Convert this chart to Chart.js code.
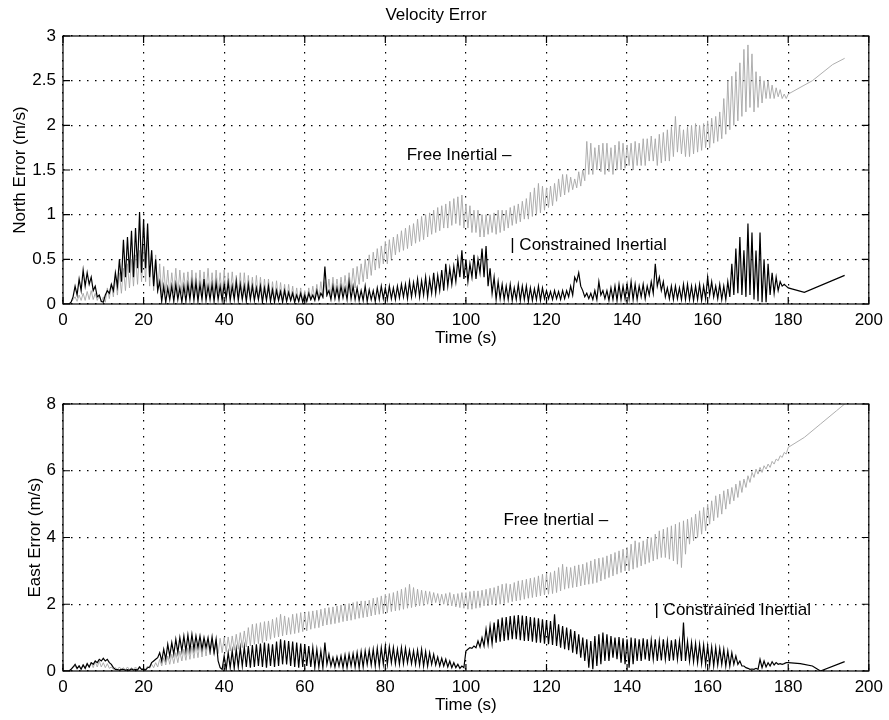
<!DOCTYPE html>
<html>
<head>
<meta charset="utf-8">
<title>Velocity Error</title>
<script src="https://cdn.jsdelivr.net/npm/chart.js@4.4.0/dist/chart.umd.min.js"></script>
<style>
  body { margin: 0; background: #fff; }
  #wrap { position: relative; width: 889px; height: 720px; }
  canvas { position: absolute; left: 0; }
  #north { top: 0; }
  #east { top: 360px; }
</style>
</head>
<body>
<div id="wrap">
  <canvas id="north" width="889" height="353"></canvas>
  <canvas id="east" width="889" height="360"></canvas>
</div>
<script>
// samples are 0.5 s apart, starting at t = 0 (one row = 5 s); null = no sample, the line spans it
const T_STEP = 0.5;

const timeTicks = [0, 20, 40, 60, 80, 100, 120, 140, 160, 180, 200];
const northTicks = [0, 0.5, 1, 1.5, 2, 2.5, 3];
const eastTicks = [0, 2, 4, 6, 8];

// North velocity error (m/s)
const northConstrained = [
  0, 0, 0, 0, 0.02, 0.08, 0.2, 0.1, 0.28, 0.15,
  0.38, 0.2, 0.35, 0.22, 0.3, 0.15, 0.2, 0.08, 0.1, 0.03,
  0.02, 0.1, 0.15, 0.12, 0.22, 0.15, 0.35, 0.2, 0.5, 0.25,
  0.72, 0.3, 0.75, 0.35, 0.82, 0.3, 0.85, 0.4, 1.03, 0.35,
  0.95, 0.4, 0.9, 0.3, 0.6, 0.2, 0.5, 0.15, 0.25, 0.03,
  0.2, 0.02, 0.18, 0.05, 0.2, 0.03, 0.22, 0.05, 0.18, 0.02,
  0.2, 0.03, 0.22, 0.05, 0.25, 0.04, 0.24, 0.03, 0.22, 0.05,
  0.28, 0.04, 0.2, 0.05, 0.22, 0.03, 0.24, 0.05, 0.2, 0.04,
  0.22, 0.06, 0.24, 0.04, 0.2, 0.05, 0.25, 0.04, 0.22, 0.05,
  0.2, 0.03, 0.22, 0.05, 0.2, 0.04, 0.18, 0.05, 0.2, 0.02,
  0.18, 0.04, 0.2, 0.03, 0.16, 0.02, 0.15, 0.04, 0.14, 0.02,
  0.15, 0.03, 0.13, 0.04, 0.12, 0.02, 0.1, 0.03, 0.12, 0.02,
  0.1, 0.03, 0.12, 0.05, 0.1, 0.04, 0.15, 0.05, 0.12, 0.08,
  0.42, 0.1, 0.15, 0.05, 0.2, 0.06, 0.18, 0.05, 0.2, 0.07,
  0.18, 0.05, 0.25, 0.06, 0.2, 0.05, 0.18, 0.04, 0.15, 0.04,
  0.2, 0.03, 0.16, 0.05, 0.15, 0.03, 0.18, 0.05, 0.2, 0.06,
  0.18, 0.05, 0.2, 0.06, 0.18, 0.05, 0.2, 0.07, 0.22, 0.08,
  0.22, 0.06, 0.25, 0.08, 0.24, 0.1, 0.28, 0.08, 0.26, 0.1,
  0.3, 0.08, 0.28, 0.12, 0.35, 0.12, 0.32, 0.15, 0.38, 0.15,
  0.45, 0.2, 0.4, 0.22, 0.42, 0.25, 0.5, 0.3, 0.6, 0.28,
  0.5, 0.25, 0.45, 0.3, 0.55, 0.28, 0.5, 0.35, 0.62, 0.3,
  0.65, 0.2, 0.4, 0.12, 0.3, 0.05, 0.25, 0.06, 0.22, 0.05,
  0.2, 0.05, 0.22, 0.04, 0.18, 0.05, 0.22, 0.04, 0.2, 0.05,
  0.2, 0.03, 0.18, 0.04, 0.17, 0.05, 0.2, 0.04, 0.18, 0.06,
  0.15, 0.06, 0.14, 0.05, 0.15, 0.06, 0.14, 0.05, 0.15, 0.06,
  0.15, 0.08, 0.2, 0.1, 0.3, 0.25, 0.35, 0.2, 0.15, 0.08,
  0.12, 0.06, 0.12, 0.05, 0.15, 0.05, 0.25, 0.1, 0.15, 0.06,
  0.15, 0.04, 0.18, 0.05, 0.2, 0.04, 0.22, 0.05, 0.2, 0.06,
  0.22, 0.06, 0.25, 0.05, 0.22, 0.05, 0.2, 0.08, 0.22, 0.06,
  0.2, 0.1, 0.25, 0.12, 0.45, 0.2, 0.3, 0.15, 0.25, 0.08,
  0.18, 0.06, 0.2, 0.05, 0.2, 0.06, 0.18, 0.05, 0.22, 0.05,
  0.22, 0.05, 0.2, 0.04, 0.2, 0.05, 0.22, 0.04, 0.2, 0.06,
  0.3, 0.1, 0.25, 0.08, 0.2, 0.06, 0.22, 0.05, 0.2, 0.05,
  0.25, 0.08, 0.45, 0.1, 0.62, 0.12, 0.75, 0.1, 0.6, 0.08,
  0.9, 0.1, 0.8, 0.05, 0.6, 0.03, 0.8, 0.02, 0.5, 0.02,
  0.45, 0.1, 0.35, 0.12, 0.3, 0.15, 0.25, 0.2, 0.22, 0.2,
  0.18, null, null, null, null, null, null, null, 0.13, null,
  null, null, null, null, null, null, null, null, null, null,
  null, null, null, null, null, null, null, null, 0.32
];
const northFree = [
  0, 0, 0, 0, 0.02, 0.05, 0.08, 0.03, 0.1, 0.04,
  0.12, 0.04, 0.14, 0.05, 0.15, 0.05, 0.12, 0.04, 0.1, 0.02,
  0.08, 0.02, 0.18, 0.06, 0.22, 0.08, 0.3, 0.1, 0.35, 0.12,
  0.4, 0.15, 0.45, 0.18, 0.5, 0.2, 0.55, 0.22, 0.6, 0.25,
  0.65, 0.25, 0.72, 0.2, 0.6, 0.15, 0.55, 0.12, 0.45, 0.1,
  0.42, 0.12, 0.38, 0.1, 0.35, 0.12, 0.4, 0.1, 0.38, 0.12,
  0.35, 0.12, 0.36, 0.1, 0.38, 0.12, 0.35, 0.08, 0.38, 0.1,
  0.36, 0.12, 0.4, 0.1, 0.35, 0.1, 0.38, 0.12, 0.35, 0.08,
  0.38, 0.08, 0.35, 0.1, 0.36, 0.1, 0.32, 0.08, 0.35, 0.06,
  0.35, 0.08, 0.32, 0.08, 0.3, 0.06, 0.32, 0.05, 0.3, 0.06,
  0.28, 0.06, 0.28, 0.05, 0.25, 0.05, 0.26, 0.04, 0.24, 0.04,
  0.22, 0.03, 0.22, 0.03, 0.2, 0.02, 0.18, 0.02, 0.18, 0.03,
  0.15, 0.03, 0.18, 0.04, 0.2, 0.05, 0.22, 0.05, 0.25, 0.06,
  0.25, 0.08, 0.28, 0.08, 0.3, 0.1, 0.28, 0.1, 0.3, 0.12,
  0.32, 0.12, 0.35, 0.15, 0.4, 0.18, 0.42, 0.22, 0.45, 0.25,
  0.5, 0.28, 0.55, 0.32, 0.58, 0.38, 0.62, 0.4, 0.65, 0.45,
  0.7, 0.45, 0.72, 0.5, 0.75, 0.55, 0.78, 0.58, 0.82, 0.6,
  0.85, 0.62, 0.88, 0.65, 0.9, 0.68, 0.95, 0.7, 0.98, 0.72,
  1.0, 0.75, 1.02, 0.78, 1.05, 0.8, 1.08, 0.82, 1.1, 0.85,
  1.12, 0.85, 1.15, 0.88, 1.18, 0.9, 1.2, 0.88, 1.22, 0.85,
  1.12, 0.85, 1.1, 0.8, 1.05, 0.8, 1.05, 0.75, 1.0, 0.75,
  1.0, 0.78, 1.0, 0.8, 1.02, 0.78, 1.05, 0.8, 1.05, 0.82,
  1.05, 0.85, 1.08, 0.88, 1.1, 0.9, 1.12, 0.92, 1.15, 0.95,
  1.18, 0.95, 1.25, 0.98, 1.3, 1.0, 1.35, 1.02, 1.32, 1.05,
  1.3, 1.08, 1.32, 1.1, 1.35, 1.15, 1.4, 1.2, 1.45, 1.22,
  1.45, 1.25, 1.42, 1.28, 1.4, 1.3, 1.48, 1.32, 1.5, 1.38,
  1.82, 1.45, 1.8, 1.45, 1.75, 1.5, 1.78, 1.48, 1.8, 1.45,
  1.8, 1.48, 1.75, 1.45, 1.78, 1.5, 1.82, 1.5, 1.8, 1.52,
  1.78, 1.55, 1.8, 1.5, 1.82, 1.55, 1.8, 1.55, 1.85, 1.55,
  1.85, 1.6, 1.88, 1.6, 1.85, 1.55, 1.9, 1.58, 1.92, 1.6,
  1.95, 1.6, 1.98, 1.65, 2.1, 1.7, 2.0, 1.68, 1.95, 1.65,
  1.98, 1.65, 2.0, 1.68, 2.02, 1.7, 2.0, 1.72, 2.02, 1.75,
  2.05, 1.75, 2.08, 1.8, 2.1, 1.82, 2.15, 1.85, 2.3, 1.9,
  2.5, 1.95, 2.55, 2.0, 2.6, 2.05, 2.7, 2.1, 2.85, 2.15,
  2.9, 2.2, 2.8, 2.15, 2.6, 2.2, 2.55, 2.25, 2.5, 2.3,
  2.5, 2.3, 2.45, 2.3, 2.42, 2.32, 2.4, 2.3, 2.35, 2.3,
  2.35, null, null, null, null, null, null, null, null, null,
  null, null, 2.5, null, null, null, null, null, null, null,
  null, null, 2.68, null, null, null, null, null, 2.75
];

// East velocity error (m/s)
const eastConstrained = [
  0, 0, 0, 0, 0.05, 0.12, 0.2, 0.08, 0.15, 0.05,
  0.18, 0.08, 0.22, 0.12, 0.25, 0.2, 0.3, 0.25, 0.35, 0.3,
  0.38, 0.3, 0.35, 0.25, 0.2, 0.1, 0.05, 0.04, 0.03, 0.05,
  0.05, 0.02, 0.04, 0.02, 0.06, 0.03, 0.05, 0.03, 0.12, 0.05,
  0.05, 0.03, 0.1, 0.12, 0.25, 0.3, 0.35, 0.4, 0.55, 0.3,
  0.65, 0.35, 0.8, 0.45, 0.85, 0.5, 0.95, 0.55, 1.0, 0.6,
  1.05, 0.6, 1.08, 0.62, 1.1, 0.65, 1.05, 0.7, 1.05, 0.65,
  1.0, 0.7, 1.0, 0.6, 1.02, 0.55, 0.95, 0.3, 0.1, 0.05,
  0.45, 0.05, 0.55, 0.1, 0.6, 0.08, 0.65, 0.12, 0.7, 0.15,
  0.72, 0.12, 0.75, 0.1, 0.78, 0.12, 0.8, 0.15, 0.82, 0.12,
  0.85, 0.1, 0.82, 0.15, 0.8, 0.12, 0.88, 0.15, 0.95, 0.2,
  0.92, 0.2, 0.9, 0.15, 0.88, 0.12, 0.85, 0.1, 0.82, 0.12,
  0.8, 0.15, 0.75, 0.12, 0.7, 0.1, 0.65, 0.12, 0.6, 0.1,
  0.85, 0.2, 0.5, 0.15, 0.4, 0.12, 0.42, 0.15, 0.45, 0.1,
  0.48, 0.1, 0.5, 0.15, 0.52, 0.12, 0.55, 0.1, 0.58, 0.12,
  0.6, 0.2, 0.62, 0.18, 0.65, 0.15, 0.68, 0.15, 0.7, 0.2,
  0.75, 0.2, 0.72, 0.25, 0.7, 0.22, 0.65, 0.2, 0.7, 0.22,
  0.68, 0.25, 0.62, 0.22, 0.6, 0.2, 0.62, 0.18, 0.65, 0.15,
  0.58, 0.15, 0.55, 0.2, 0.5, 0.18, 0.42, 0.15, 0.38, 0.15,
  0.35, 0.12, 0.3, 0.1, 0.25, 0.1, 0.2, 0.08, 0.15, 0.1,
  0.6, 0.65, 0.7, 0.68, 0.75, 0.7, 0.9, 0.72, 1.0, 0.75,
  1.25, 0.8, 1.35, 0.82, 1.45, 0.85, 1.55, 0.88, 1.6, 0.9,
  1.62, 0.92, 1.65, 0.95, 1.66, 0.95, 1.68, 0.92, 1.66, 0.9,
  1.65, 0.9, 1.62, 0.88, 1.6, 0.85, 1.58, 0.85, 1.55, 0.82,
  1.52, 0.8, 1.5, 0.78, 1.7, 0.75, 1.4, 0.7, 1.35, 0.65,
  1.3, 0.62, 1.25, 0.55, 1.2, 0.5, 1.1, 0.4, 1.0, 0.3,
  0.95, 0.1, 0.9, 0.05, 1.05, 0.15, 1.1, 0.2, 1.15, 0.3,
  1.1, 0.3, 1.05, 0.4, 1.0, 0.35, 1.02, 0.25, 0.98, 0.2,
  0.95, 0.1, 1.0, 0.2, 0.98, 0.3, 0.95, 0.3, 0.98, 0.35,
  0.95, 0.3, 0.92, 0.35, 0.95, 0.3, 0.9, 0.32, 0.95, 0.35,
  0.9, 0.3, 0.92, 0.32, 0.95, 0.35, 0.9, 0.3, 1.45, 0.3,
  0.88, 0.3, 0.85, 0.28, 0.82, 0.25, 0.8, 0.22, 0.78, 0.2,
  0.75, 0.18, 0.72, 0.15, 0.7, 0.18, 0.68, 0.2, 0.65, 0.15,
  0.6, 0.15, 0.55, 0.2, 0.45, 0.2, 0.3, 0.15, 0.15, 0.1,
  0.08, 0.05, 0.06, 0.05, 0.08, 0.05, 0.35, 0.1, 0.3, 0.12,
  0.25, 0.15, 0.28, 0.18, 0.25, 0.2, 0.22, 0.2, 0.22, 0.25,
  0.25, null, null, null, null, null, 0.22, null, null, null,
  null, null, 0.15, null, null, null, 0, null, null, null,
  null, null, null, null, null, null, null, null, 0.28
];
const eastFree = [
  0, 0, 0, 0, 0.05, 0.1, 0.15, 0.05, 0.18, 0.06,
  0.2, 0.08, 0.22, 0.1, 0.25, 0.1, 0.28, 0.12, 0.3, 0.12,
  0.25, 0.1, 0.22, 0.08, 0.12, 0.05, 0.1, 0.04, 0.12, 0.04,
  0.1, 0.03, 0.12, 0.04, 0.1, 0.05, 0.12, 0.05, 0.15, 0.05,
  0.1, 0.05, 0.15, 0.08, 0.2, 0.1, 0.25, 0.12, 0.35, 0.15,
  0.4, 0.18, 0.45, 0.2, 0.5, 0.22, 0.55, 0.25, 0.6, 0.3,
  0.65, 0.32, 0.7, 0.35, 0.75, 0.38, 0.8, 0.4, 0.85, 0.42,
  0.88, 0.45, 0.9, 0.48, 0.92, 0.5, 0.95, 0.52, 0.98, 0.55,
  1.0, 0.58, 1.02, 0.6, 1.05, 0.62, 1.1, 0.65, 1.15, 0.7,
  1.2, 0.72, 1.3, 0.75, 1.4, 0.8, 1.42, 0.82, 1.45, 0.85,
  1.48, 0.9, 1.5, 0.95, 1.55, 1.0, 1.6, 1.02, 1.7, 1.05,
  1.65, 1.08, 1.6, 1.1, 1.7, 1.12, 1.72, 1.15, 1.75, 1.18,
  1.75, 1.2, 1.78, 1.25, 1.8, 1.28, 1.82, 1.3, 1.85, 1.35,
  1.88, 1.38, 1.9, 1.4, 1.92, 1.42, 1.95, 1.45, 1.98, 1.48,
  2.0, 1.5, 2.02, 1.52, 2.05, 1.55, 2.08, 1.58, 2.1, 1.6,
  2.1, 1.62, 2.12, 1.65, 2.18, 1.68, 2.2, 1.7, 2.25, 1.72,
  2.3, 1.75, 2.32, 1.78, 2.35, 1.8, 2.4, 1.82, 2.45, 1.85,
  2.5, 1.88, 2.6, 1.9, 2.5, 1.92, 2.45, 1.95, 2.42, 1.98,
  2.4, 2.0, 2.38, 2.02, 2.35, 2.05, 2.32, 2.02, 2.3, 2.0,
  2.32, 1.98, 2.35, 1.95, 2.3, 1.92, 2.32, 1.9, 2.35, 1.88,
  2.35, 1.85, 2.38, 1.85, 2.4, 1.88, 2.4, 1.9, 2.42, 1.95,
  2.45, 1.95, 2.48, 1.98, 2.5, 2.0, 2.55, 2.0, 2.6, 2.02,
  2.62, 2.05, 2.6, 2.08, 2.65, 2.1, 2.7, 2.12, 2.72, 2.15,
  2.75, 2.18, 2.78, 2.2, 2.8, 2.22, 2.85, 2.25, 2.9, 2.28,
  2.92, 2.3, 2.95, 2.32, 3.0, 2.35, 3.1, 2.4, 3.2, 2.45,
  3.12, 2.48, 3.1, 2.5, 3.15, 2.52, 3.18, 2.55, 3.2, 2.58,
  3.25, 2.6, 3.3, 2.62, 3.35, 2.65, 3.38, 2.7, 3.4, 2.75,
  3.45, 2.8, 3.5, 2.85, 3.55, 2.9, 3.6, 2.95, 3.65, 3.0,
  3.7, 3.0, 3.8, 3.05, 3.9, 3.1, 3.85, 3.15, 3.9, 3.2,
  3.95, 3.25, 4.0, 3.3, 4.1, 3.35, 4.2, 3.4, 4.25, 3.4,
  4.3, 3.35, 4.35, 3.3, 4.4, 3.2, 4.45, 3.1, 4.5, 3.5,
  4.55, 3.8, 4.6, 3.9, 4.7, 4.0, 4.8, 4.1, 4.9, 4.2,
  5.0, 4.4, 5.1, 4.5, 5.25, 4.6, 5.3, 4.7, 5.4, 4.85,
  5.45, 5.0, 5.5, 5.1, 5.6, 5.2, 5.7, 5.35, 5.75, 5.5,
  5.85, 5.65, 5.95, 5.8, 6.05, 5.9, 6.1, 5.95, 6.15, 6.05,
  6.2, 6.1, 6.28, 6.2, 6.35, 6.3, 6.45, 6.4, 6.55, 6.5,
  6.7, null, null, null, null, null, null, null, 7.0, null,
  null, null, null, null, null, null, 7.4, null, null, null,
  null, null, null, null, 7.8, null, null, null, 8.0
];

const FONT = '"Liberation Sans", Arial, Helvetica, sans-serif';

function toPoints(values) {
  return values.map((v, i) => ({ x: i * T_STEP, y: v }));
}

// matlab style box, inward tick marks and the two text labels
function framePlugin(notes) {
  return {
    id: 'frame',
    afterDatasetsDraw(chart) {
      const { ctx, chartArea: a, scales: { x, y } } = chart;
      ctx.save();
      ctx.strokeStyle = '#000';
      ctx.lineWidth = 1.2;
      ctx.strokeRect(a.left, a.top, a.right - a.left, a.bottom - a.top);
      ctx.beginPath();
      x.ticks.forEach(t => {
        const px = x.getPixelForValue(t.value);
        ctx.moveTo(px, a.bottom); ctx.lineTo(px, a.bottom - 7);
        ctx.moveTo(px, a.top); ctx.lineTo(px, a.top + 7);
      });
      y.ticks.forEach(t => {
        const py = y.getPixelForValue(t.value);
        ctx.moveTo(a.left, py); ctx.lineTo(a.left + 7, py);
        ctx.moveTo(a.right, py); ctx.lineTo(a.right - 7, py);
      });
      ctx.stroke();

      ctx.fillStyle = '#000';
      ctx.font = '17px ' + FONT;
      ctx.textAlign = 'left';
      ctx.textBaseline = 'middle';
      notes.forEach(n => {
        ctx.fillText(n.text, x.getPixelForValue(n.x), y.getPixelForValue(n.y));
      });
      ctx.restore();
    }
  };
}

function makeChart(id, cfg) {
  return new Chart(document.getElementById(id), {
    type: 'line',
    data: {
      datasets: [
        { label: 'Constrained Inertial', data: toPoints(cfg.constrained), borderColor: '#000', borderWidth: 1.2 },
        { label: 'Free Inertial', data: toPoints(cfg.free), borderColor: '#a6a6a6', borderWidth: 0.9 }
      ]
    },
    options: {
      responsive: false,
      animation: false,
      devicePixelRatio: 1,
      spanGaps: true,
      elements: { point: { radius: 0 }, line: { tension: 0 } },
      layout: { padding: { left: 0, right: 17, top: cfg.padTop, bottom: 0 } },
      plugins: {
        legend: { display: false },
        tooltip: { enabled: false },
        title: cfg.title ? {
          display: true, text: cfg.title, color: '#000',
          font: { family: FONT, size: 17, weight: 'normal' },
          padding: { top: 5, bottom: 10.6 }
        } : { display: false }
      },
      scales: {
        x: {
          type: 'linear', min: 0, max: 200,
          afterBuildTicks: s => { s.ticks = timeTicks.map(v => ({ value: v })); },
          afterFit: s => { s.height = 49; },
          ticks: { color: '#000', font: { family: FONT, size: 17 }, padding: 6, maxRotation: 0, callback: v => String(v) },
          grid: { color: '#000', lineWidth: 1.2, drawTicks: false },
          border: { display: false, dash: [1.5, 6.5] },
          title: { display: true, text: 'Time (s)', color: '#000', font: { family: FONT, size: 17 }, padding: { top: 0, bottom: 4 } }
        },
        y: {
          type: 'linear', min: 0, max: cfg.yMax,
          afterBuildTicks: s => { s.ticks = cfg.yTicks.map(v => ({ value: v })); },
          afterFit: s => { s.width = 63; },
          ticks: { color: '#000', font: { family: FONT, size: 17 }, padding: 7, callback: v => String(v) },
          grid: { color: '#000', lineWidth: 1.2, drawTicks: false },
          border: { display: false, dash: [1.5, 6.5] },
          title: { display: true, text: cfg.yTitle, color: '#000', font: { family: FONT, size: 17 }, padding: { top: cfg.yTitlePad, bottom: 0 } }
        }
      }
    },
    plugins: [framePlugin(cfg.notes)]
  });
}

makeChart('north', {
  constrained: northConstrained,
  free: northFree,
  yMax: 3,
  yTicks: northTicks,
  yTitle: 'North Error (m/s)',
  yTitlePad: 10,
  title: 'Velocity Error',
  padTop: 0,
  notes: [
    { text: 'Free Inertial \u2013', x: 85.3, y: 1.67 },
    { text: '| Constrained Inertial', x: 111, y: 0.66 }
  ]
});

makeChart('east', {
  constrained: eastConstrained,
  free: eastFree,
  yMax: 8,
  yTicks: eastTicks,
  yTitle: 'East Error (m/s)',
  yTitlePad: 25,
  title: null,
  padTop: 44,
  notes: [
    { text: 'Free Inertial \u2013', x: 109.3, y: 4.52 },
    { text: '| Constrained Inertial', x: 146.8, y: 1.83 }
  ]
});
</script>
</body>
</html>
